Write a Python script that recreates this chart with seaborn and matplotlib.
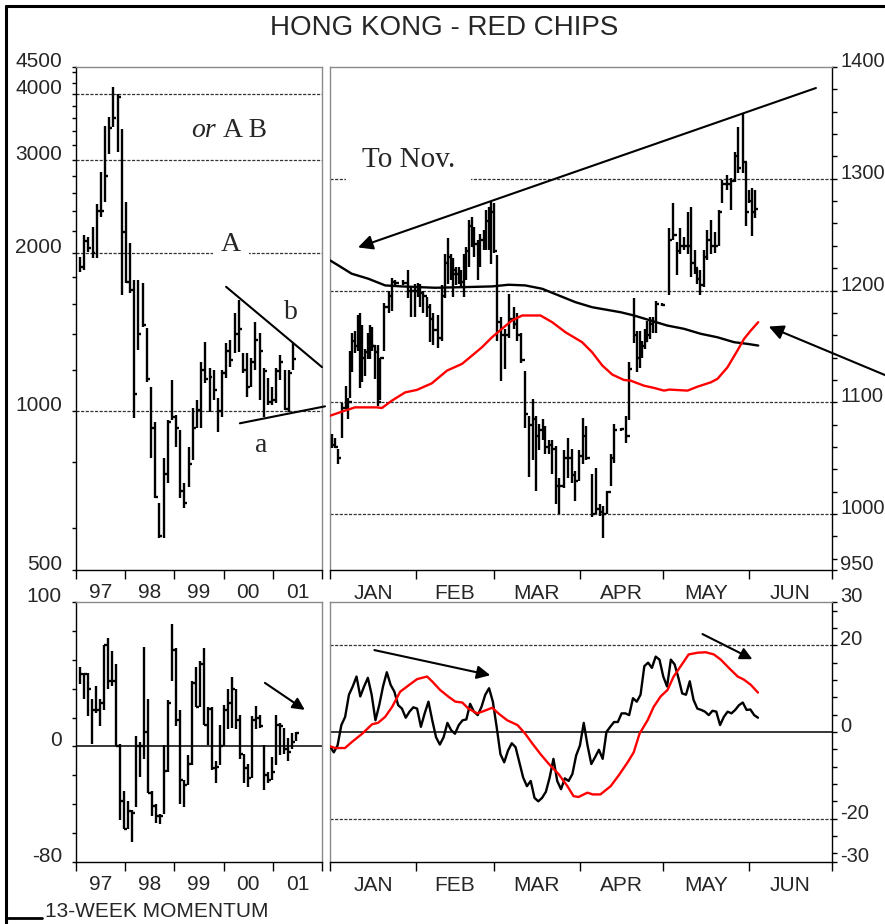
import numpy as np
import pandas as pd
import matplotlib
matplotlib.use("Agg")
import matplotlib.pyplot as plt
import matplotlib.ticker as mticker
from matplotlib.lines import Line2D
import seaborn as sns

sns.set_style("white")
plt.rcParams["font.family"] = ["Liberation Sans", "DejaVu Sans"]
SERIF = ["Liberation Serif", "DejaVu Serif"]

W, H = 885, 924
GRID = "#333333"
SPINE_GRAY = "#8a8a8a"


# -----------------------------
# Data: long term monthly bars (top left, log scale)
# -----------------------------
LT_START, LT_END = "1997-01-31", "2001-05-30"
lt_high = [1965, 2164, 2145, 2241, 2469, 2840, 3475, 3615, 4123, 4000,
           3430, 2490, 2089, 1776, 1776, 1750, 1439, 1111, 953, 671,
           814, 961, 1146, 983, 920, 732, 854, 1013, 1049, 1240,
           1353, 1208, 1197, 1059, 1197, 1347, 1366, 1537, 1627, 1290,
           1290, 1262, 1477, 1408, 1208, 1156, 1111, 1208, 1278, 1197,
           1197, 1347]
lt_low = [1840, 1856, 2009, 1956, 1956, 2342, 2490, 3073, 3460, 3100,
          1663, 1753, 1678, 970, 1307, 1445, 1136, 814, 686, 575,
          575, 732, 961, 854, 686, 656, 717, 807, 928, 928,
          1131, 996, 1049, 912, 974, 1156, 1213, 1290, 1295, 1181,
          1063, 1111, 1197, 1049, 974, 1027, 1027, 1036, 1146, 1004,
          996, 1197]
lt_close = [1880, 2100, 2040, 2000, 2400, 2400, 2800, 3450, 3600, 3950,
            2190, 1760, 1700, 1080, 1400, 1460, 1150, 928, 688, 580,
            760, 953, 975, 928, 707, 670, 796, 928, 1004, 1200,
            1150, 1162, 1100, 1000, 1181, 1300, 1250, 1400, 1430, 1200,
            1111, 1240, 1366, 1300, 1190, 1040, 1050, 1190, 1240, 1010,
            1180, 1256]
lt_yticks = [500, 1000, 2000, 3000, 4000, 4500]
year_labels = ["97", "98", "99", "00", "01"]

# -----------------------------
# Data: 13-week momentum bars (bottom left)
# -----------------------------
LM_START, LM_END = "1997-01-31", "2001-06-25"
lm_high = [55, 51, 51, 33, 42, 33, 70, 75, 66, 57,
           2, -31, -38, -44, 7, 3, 69, 33, -31, -40,
           -47, 1, 32, 85, 68, 25, -23, -6, 45, 55,
           59, 68, 27, 27, -10, 15, 29, 40, 48, 40,
           22, -5, -12, 21, 28, 22, 1, -18, -7, 22,
           16, 13, 6, 9, 10]
lm_low = [43, 33, 21, 2, 23, 14, 25, 40, 42, 0,
          -51, -57, -57, -66, -42, -21, -9, -32, -48, -53,
          -54, -47, -18, 45, 14, -40, -42, -27, -13, 27,
          27, 15, 1, -16, -25, -13, 0, 12, 13, 12,
          -9, -25, -28, -22, 12, 13, -30, -25, -23, -13,
          -6, -5, -10, -2, 4]
lm_close = [50, 50, 40, 25, 25, 30, 70, 45, 45, 0,
            -38, -57, -45, -46, 0, 0, 10, -32, -41, -48,
            -48, -17, 30, 67, 18, -23, -27, -12, 44, 27,
            57, 15, 26, -15, -14, 0, 25, 30, 40, 18,
            -5, -15, -22, 18, 20, 14, -20, -23, -18, 15,
            14, -2, -4, 3, 9]

# -----------------------------
# Data: daily bars 2001 (top right), day = days since 1 Jan
# -----------------------------
st_day = [0.6, 1.8, 2.8, 4.2, 5.7, 6.6, 7.2, 8.1, 9.0, 10.0,
          10.8, 11.7, 12.6, 13.6, 14.5, 15.3, 16.3, 17.2, 18.1, 19.6,
          21.1, 22.3, 23.5, 26.5, 28.1, 29.3, 30.5, 31.7, 32.5, 33.7,
          34.9, 36.1, 37.3, 38.9, 40.4, 41.5, 42.5, 43.7, 44.5, 45.4,
          46.4, 47.3, 48.2, 49.0, 50.2, 51.2, 52.1, 53.4, 54.2, 55.4,
          56.3, 57.2, 58.1, 59.0, 60.2, 61.8, 63.2, 64.7, 66.2, 67.4,
          69.0, 70.2, 71.6, 73.1, 74.3, 75.5, 76.7, 77.7, 78.9, 80.1,
          81.5, 82.7, 84.3, 85.9, 87.1, 88.3, 89.7, 91.2, 92.4, 94.3,
          96.0, 97.2, 98.4, 100.0, 101.2, 102.3, 104.8, 106.9, 107.8, 109.6,
          110.8, 111.7, 112.6, 113.5, 114.4, 115.4, 116.6, 117.4, 119.6,
          122.2, 123.8, 125.0, 126.2, 127.6, 129.1, 130.3, 131.5, 132.5, 133.4,
          134.9, 136.1, 137.3, 138.7, 140.3, 141.5, 143.1, 144.5, 146.0, 147.1,
          149.0, 149.9, 151.1, 152.0, 153.2]
st_high = [1072, 1068, 1058, 1099, 1115, 1104, 1146, 1162, 1164, 1178,
           1180, 1169, 1148, 1162, 1169, 1167, 1151, 1151, 1140, 1189,
           1200, 1211, 1209, 1209, 1218, 1203, 1206, 1207, 1206, 1200,
           1194, 1188, 1180, 1178, 1205, 1233, 1247, 1233, 1229, 1221,
           1221, 1218, 1233, 1239, 1263, 1266, 1257, 1245, 1251, 1254,
           1272, 1275, 1279, 1278, 1232, 1176, 1166, 1197, 1185, 1180,
           1162, 1128, 1088, 1103, 1088, 1081, 1085, 1079, 1066, 1066,
           1061, 1032, 1057, 1068, 1058, 1039, 1057, 1086, 1079, 1036,
           1041, 1009, 1007, 1021, 1054, 1081, 1077, 1088, 1136, 1193,
           1164, 1164, 1155, 1166, 1173, 1176, 1176, 1191, 1189,
           1256, 1278, 1243, 1256, 1248, 1270, 1275, 1236, 1220, 1218,
           1236, 1254, 1263, 1252, 1272, 1299, 1303, 1301, 1324, 1346,
           1359, 1315, 1290, 1292, 1290]
st_low = [1059, 1059, 1045, 1068, 1094, 1085, 1104, 1127, 1144, 1146,
          1113, 1118, 1124, 1139, 1139, 1146, 1121, 1097, 1102, 1146,
          1180, 1182, 1203, 1205, 1193, 1176, 1176, 1194, 1185, 1180,
          1176, 1154, 1151, 1149, 1155, 1193, 1206, 1209, 1194, 1205,
          1206, 1203, 1194, 1209, 1221, 1239, 1230, 1209, 1221, 1236,
          1236, 1236, 1224, 1234, 1155, 1119, 1130, 1158, 1166, 1155,
          1135, 1077, 1033, 1048, 1021, 1057, 1066, 1054, 1054, 1036,
          1009, 1000, 1023, 1032, 1028, 1012, 1030, 1045, 1048, 997,
          1000, 998, 979, 1000, 1025, 1046, 1074, 1064, 1084, 1153,
          1127, 1131, 1140, 1148, 1154, 1157, 1162, 1162, 1186,
          1196, 1245, 1214, 1233, 1236, 1233, 1212, 1215, 1206, 1196,
          1203, 1227, 1233, 1234, 1240, 1278, 1290, 1272, 1297, 1305,
          1305, 1258, 1278, 1249, 1265]
st_close = [1062, 1060, 1050, 1095, 1100, 1100, 1140, 1155, 1150, 1170,
            1120, 1140, 1145, 1160, 1150, 1150, 1145, 1100, 1140, 1185,
            1195, 1208, 1207, 1207, 1200, 1200, 1200, 1204, 1198, 1195,
            1185, 1175, 1165, 1158, 1195, 1225, 1230, 1215, 1218, 1215,
            1212, 1208, 1230, 1235, 1258, 1240, 1242, 1242, 1245, 1250,
            1262, 1270, 1270, 1235, 1172, 1160, 1160, 1175, 1170, 1160,
            1138, 1090, 1080, 1085, 1070, 1075, 1070, 1060, 1062, 1058,
            1025, 1025, 1050, 1050, 1035, 1030, 1052, 1070, 1050, 1000,
            1005, 1002, 1000, 1020, 1050, 1075, 1076, 1070, 1130, 1160,
            1140, 1150, 1150, 1155, 1160, 1170, 1172, 1188, 1187,
            1245, 1250, 1235, 1240, 1240, 1240, 1225, 1220, 1210, 1205,
            1230, 1245, 1240, 1240, 1270, 1295, 1295, 1298, 1320, 1310,
            1315, 1270, 1280, 1270, 1273]

# moving averages on the daily chart
red_ma_day = [0, 4.2, 9.0, 16.9, 18.7, 22.3, 27.1, 31.3, 36.7, 42.2,
              47.6, 51.2, 54.8, 58.4, 62.0, 65.6, 69.3, 75.9, 80.1, 84.9,
              90.9, 94.5, 98.2, 101.8, 106.0, 108.4, 113.2, 116.8, 120.4, 122.4,
              128.9, 132.5, 137.3, 139.7, 143.3, 146.9, 149.3, 151.7, 154.4]
red_ma = [1088, 1091.6, 1095.5, 1095.5, 1094.9, 1101.5, 1108.9, 1111.1, 1117.0, 1128.4,
          1134.4, 1141.8, 1149.3, 1158.2, 1165.8, 1173.2, 1177.7, 1177.7, 1171.7, 1162.7,
          1153.8, 1144.8, 1132.9, 1124.8, 1120.0, 1119.4, 1114.9, 1112.9, 1110.5, 1111.4,
          1110.5, 1114.0, 1117.9, 1121.0, 1131.3, 1146.3, 1156.8, 1164.2, 1171.7]
black_ma_day = [0, 3.0, 7.8, 13.8, 19.9, 25.9, 37.9, 48.8, 58.4, 64.4,
                70.4, 76.5, 82.5, 88.5, 94.5, 104.8, 109.6, 115.6, 121.6, 127.6,
                133.7, 139.7, 145.7, 150.5, 154.4]
black_ma = [1227.0, 1222.5, 1215.1, 1210.6, 1204.6, 1203.7, 1202.5, 1203.1, 1203.7, 1205.2,
            1204.6, 1201.6, 1195.6, 1189.6, 1185.1, 1180.6, 1177.7, 1173.2, 1168.7, 1165.8,
            1161.3, 1158.2, 1153.8, 1152.3, 1150.8]

# -----------------------------
# Data: daily momentum (bottom right)
# -----------------------------
MOM_LAST_DAY = 154.3
mom_daily = [-3.3, -4.7, -3.1, 1.6, 3.5, 8.6, 10.5, 12.8, 8.2, 10.5,
             12.5, 8.6, 2.7, 6.2, 10.5, 13.8, 10.9, 9.3, 6.2, 5.4,
             3.3, 4.7, 5.7, 5.4, 1.2, 4.3, 7.0, 2.7, -1.2, -2.9,
             -1.2, 2.1, 0.4, -0.4, 1.6, 2.7, 2.9, 6.5, 4.7, 3.9,
             5.8, 8.6, 10.1, 7.0, 1.2, -5.1, -7.0, -4.3, -2.6, -3.5,
             -7.0, -10.5, -12.5, -11.3, -15.2, -16.0, -15.2, -13.8, -10.5, -6.2,
             -11.3, -13.2, -10.7, -11.3, -9.7, -5.4, -3.1, 2.1, -3.1, -7.4,
             -5.8, -4.1, -6.2, 0.0, 1.2, 2.3, 2.3, 4.3, 4.3, 3.9,
             7.8, 7.0, 8.6, 15.2, 16.0, 14.8, 17.4, 16.7, 12.8, 10.5,
             16.7, 15.6, 12.5, 8.9, 8.6, 11.7, 7.4, 5.4, 5.1, 4.7,
             3.9, 4.9, 4.7, 1.6, 3.5, 4.7, 4.3, 5.1, 6.2, 6.8,
             5.1, 5.2, 3.9, 3.3]
mom_ma_day = [0, 1.8, 5.4, 7.9, 11.6, 15.2, 17.3, 19.9, 22.4, 25.3,
              28.2, 31.4, 35.0, 36.8, 39.7, 42.6, 45.2, 47.7, 49.9, 53.1,
              55.3, 58.5, 60.7, 63.9, 67.6, 70.4, 73.0, 75.9, 78.8, 82.4,
              85.6, 87.8, 89.6, 92.8, 94.7, 97.5, 101.2, 104.0, 107.3, 109.5,
              111.6, 114.5, 116.7, 119.2, 121.7, 123.9, 127.2, 129.3, 132.6, 135.5,
              138.4, 140.9, 143.8, 147.0, 149.2, 151.7, 154.3]
mom_ma = [-3.3, -3.7, -3.7, -2.3, -0.4, 1.8, 2.1, 3.5, 5.8, 9.3,
          10.7, 12.2, 12.8, 11.7, 9.7, 8.2, 7.0, 6.8, 5.4, 4.3,
          4.8, 5.6, 4.3, 2.7, 1.6, -0.4, -2.7, -5.1, -7.3, -9.7,
          -12.5, -14.8, -15.0, -14.0, -14.4, -14.4, -12.5, -10.1, -7.0, -4.7,
          -0.4, 2.7, 5.8, 8.2, 9.7, 12.8, 15.9, 17.9, 18.3, 18.4,
          17.9, 16.7, 14.8, 12.8, 12.1, 10.9, 9.1]

month_starts = [0, 31, 59, 90, 120, 151, 181]
month_labels = ["JAN", "FEB", "MAR", "APR", "MAY", "JUN"]


# -----------------------------
# Helper Functions
# -----------------------------
def to_year(dates):
    days = np.where(dates.is_leap_year, 366, 365)
    return np.asarray(dates.year + (dates.dayofyear - 0.5) / days)


def px_axes(fig, x0, y0, x1, y1):
    return fig.add_axes([x0 / W, 1 - y1 / H, (x1 - x0) / W, (y1 - y0) / H])


def style_spines(ax, right_panel):
    for side in ["top", "bottom", "left", "right"]:
        ax.spines[side].set_visible(True)
        ax.spines[side].set_linewidth(1.0)
    ax.spines["top"].set_color(SPINE_GRAY)
    ax.spines["bottom"].set_color("black")
    if right_panel:
        ax.spines["left"].set_color(SPINE_GRAY)
        ax.spines["right"].set_color("black")
    else:
        ax.spines["left"].set_color("black")
        ax.spines["right"].set_color(SPINE_GRAY)


def x_years(ax):
    ax.set_xlim(1997, 2002)
    ax.xaxis.set_major_locator(mticker.FixedLocator(range(1997, 2003)))
    ax.xaxis.set_major_formatter(mticker.NullFormatter())
    ax.xaxis.set_minor_locator(mticker.FixedLocator([y + 0.5 for y in range(1997, 2002)]))
    ax.xaxis.set_minor_formatter(mticker.FixedFormatter(year_labels))
    ax.tick_params(axis="x", which="major", bottom=True, direction="out",
                   length=6.5, width=1, color="black")
    ax.tick_params(axis="x", which="minor", bottom=True, length=0, pad=9.5, labelsize=15)


def x_months(ax):
    ax.set_xlim(0, 181)
    ax.xaxis.set_major_locator(mticker.FixedLocator(month_starts))
    ax.xaxis.set_major_formatter(mticker.NullFormatter())
    mids = [(a + b) / 2 for a, b in zip(month_starts[:-1], month_starts[1:])]
    ax.xaxis.set_minor_locator(mticker.FixedLocator(mids))
    ax.xaxis.set_minor_formatter(mticker.FixedFormatter(month_labels))
    ax.tick_params(axis="x", which="major", bottom=True, direction="out",
                   length=6.5, width=1, color="black")
    ax.tick_params(axis="x", which="minor", bottom=True, length=0, pad=10, labelsize=15)


def y_ticks(ax, majors, labels, minors, side):
    ax.yaxis.set_major_locator(mticker.FixedLocator(majors))
    ax.yaxis.set_major_formatter(mticker.FixedFormatter(labels))
    ax.yaxis.set_minor_locator(mticker.FixedLocator(minors))
    ax.yaxis.set_minor_formatter(mticker.NullFormatter())
    if side == "right":
        ax.yaxis.tick_right()
        ax.tick_params(axis="y", which="both", right=True, left=False, direction="out",
                       length=3.6, width=1, pad=2.4, labelsize=14.5, color="black")
    else:
        ax.tick_params(axis="y", which="both", left=True, right=False, direction="out",
                       length=3.1, width=1, pad=7, labelsize=15, color="black")
    plt.setp(ax.get_yticklabels(), va="baseline")


def draw_bars(ax, x, high, low, close, tick):
    x = np.asarray(x)
    ax.vlines(x, low, high, color="black", lw=1.7, zorder=3)
    ax.hlines(close, x, x + tick, color="black", lw=1.7, zorder=3)


def hgrid(ax, values, solid=False):
    for v in values:
        if solid:
            ax.axhline(v, color="black", lw=1.1, zorder=1)
        else:
            ax.axhline(v, color=GRID, lw=0.9, ls=(0, (2.5, 1.2)), zorder=1)


def arrow(ax, tail, tip, scale=18):
    ax.annotate("", xy=tip, xytext=tail, annotation_clip=False,
                arrowprops=dict(arrowstyle="-|>", color="black", lw=1.5,
                                mutation_scale=scale, shrinkA=0, shrinkB=0))


# -----------------------------
# Figure
# -----------------------------
fig = plt.figure(figsize=(W / 100, H / 100), dpi=100)

ax_lt = px_axes(fig, 76, 67, 322, 570)
ax_st = px_axes(fig, 330, 67, 832, 570)
ax_lm = px_axes(fig, 76, 602, 322, 862)
ax_sm = px_axes(fig, 330, 602, 832, 862)

# ---- top left: long term log chart ----
lt_x = to_year(pd.date_range(LT_START, LT_END, periods=len(lt_high)))
ax_lt.set_yscale("log")
ax_lt.set_ylim(500, 4500)
x_years(ax_lt)
lt_minor = [v for v in range(600, 4500, 200) if v not in lt_yticks]
y_ticks(ax_lt, lt_yticks, [str(v) for v in lt_yticks], lt_minor, "left")
style_spines(ax_lt, False)
hgrid(ax_lt, [1000, 2000, 3000, 4000])
draw_bars(ax_lt, lt_x, lt_high, lt_low, lt_close, 0.06)

ax_lt.plot([2000.05, 2002.0], [1723, 1213], color="black", lw=1.5, clip_on=False, zorder=4)
ax_lt.plot([2000.33, 2002.06], [949, 1022], color="black", lw=1.5, clip_on=False, zorder=4)
ax_lt.text(1999.84, 3414, "or", family=SERIF, style="italic", fontsize=20,
           ha="right", va="center", zorder=5)
ax_lt.text(1999.98, 3414, "A B", family=SERIF, fontsize=20, ha="left", va="center", zorder=5)
ax_lt.text(2000.15, 2071, "A", family=SERIF, fontsize=20, ha="center", va="center", zorder=5,
           bbox=dict(boxstyle="square,pad=0.3", fc="white", ec="none"))
ax_lt.text(2001.37, 1537, "b", family=SERIF, fontsize=20, ha="center", va="center", zorder=5)
ax_lt.text(2000.76, 861, "a", family=SERIF, fontsize=20, ha="center", va="center", zorder=5)

# ---- top right: daily chart ----
ax_st.set_ylim(950, 1400)
x_months(ax_st)
st_majors = [950, 1000, 1100, 1200, 1300, 1400]
st_minor = [v for v in range(960, 1400, 20) if v not in st_majors]
y_ticks(ax_st, st_majors, [str(v) for v in st_majors], st_minor, "right")
style_spines(ax_st, True)
hgrid(ax_st, [1000, 1100, 1200, 1300])
draw_bars(ax_st, st_day, st_high, st_low, st_close, 1.2)
sns.lineplot(x=black_ma_day, y=black_ma, ax=ax_st, color="black", lw=1.7,
             estimator=None, sort=False, legend=False, zorder=4)
sns.lineplot(x=red_ma_day, y=red_ma, ax=ax_st, color="#ff0000", lw=1.7,
             estimator=None, sort=False, legend=False, zorder=4)
ax_st.text(28.2, 1316.6, "To Nov.", family=SERIF, fontsize=21, ha="center", va="center",
           zorder=5, bbox=dict(boxstyle="square,pad=0.55", fc="white", ec="none"))
arrow(ax_st, (175.2, 1381.2), (10.1, 1238.6), 22)
arrow(ax_st, (200.5, 1124.0), (158.2, 1167.8), 22)

# ---- bottom left: 13-week momentum ----
lm_x = to_year(pd.date_range(LM_START, LM_END, periods=len(lm_high)))
ax_lm.set_ylim(-80, 100)
x_years(ax_lm)
y_ticks(ax_lm, [-80, 0, 100], ["-80", "0", "100"],
        [v for v in range(-60, 100, 20) if v != 0], "left")
style_spines(ax_lm, False)
hgrid(ax_lm, [0], solid=True)
draw_bars(ax_lm, lm_x, lm_high, lm_low, lm_close, 0.06)
arrow(ax_lm, (2000.84, 44), (2001.65, 25.3), 18)

# ---- bottom right: daily momentum ----
mom_day = np.linspace(0, MOM_LAST_DAY, len(mom_daily))
ax_sm.set_ylim(-30, 30)
x_months(ax_sm)
y_ticks(ax_sm, [-30, -20, 0, 20, 30], ["-30", "-20", "0", "20", "30"],
        [v for v in range(-28, 30, 4) if v not in (0, 20, -20)], "right")
style_spines(ax_sm, True)
hgrid(ax_sm, [20, -20])
hgrid(ax_sm, [0], solid=True)
sns.lineplot(x=mom_day, y=mom_daily, ax=ax_sm, color="black", lw=1.7,
             estimator=None, sort=False, legend=False, zorder=4)
sns.lineplot(x=mom_ma_day, y=mom_ma, ax=ax_sm, color="#ff0000", lw=1.7,
             estimator=None, sort=False, legend=False, zorder=4)
arrow(ax_sm, (16.0, 18.9), (57.8, 13.1), 20)
arrow(ax_sm, (134.3, 22.6), (152.3, 16.8), 18)

for ax in (ax_lt, ax_st, ax_lm, ax_sm):
    ax.set_xlabel("")
    ax.set_ylabel("")

# ---- frame, title, footer ----
fig.add_artist(Line2D([6 / W, 6 / W], [0, 1 - 6 / H], color="black", lw=2.2))
fig.add_artist(Line2D([6 / W, 1], [1 - 6 / H, 1 - 6 / H], color="black", lw=2.2))
fig.add_artist(Line2D([8 / W, 42 / W], [1 - 918 / H, 1 - 918 / H], color="black", lw=2))
fig.text(444 / W, 1 - 28 / H, "HONG KONG - RED CHIPS", ha="center", va="center", fontsize=20)
fig.text(45 / W, 1 - 917 / H, "13-WEEK MOMENTUM", ha="left", va="baseline", fontsize=15)

fig.savefig("out.png", dpi=100, facecolor="white")
plt.close(fig)
